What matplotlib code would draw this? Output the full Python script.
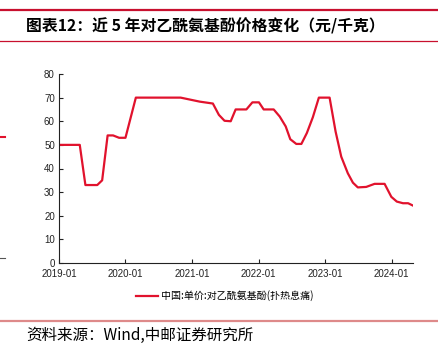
import matplotlib

matplotlib.use("Agg")
import matplotlib.pyplot as plt
import matplotlib.dates as mdates
import pandas as pd
from matplotlib.lines import Line2D

plt.rcParams["font.family"] = ["Liberation Sans", "Noto Sans CJK SC", "DejaVu Sans"]

TITLE = "图表12：近 5 年对乙酰氨基酚价格变化（元/千克）"
SOURCE = "资料来源：Wind,中邮证券研究所"
SERIES_NAME = "中国:单价:对乙酰氨基酚(扑热息痛)"

# price, yuan/kg
dates = [
    "2019-01-01", "2019-04-25", "2019-05-26", "2019-07-30", "2019-08-26",
    "2019-09-25", "2019-10-25", "2019-11-27", "2020-01-01", "2020-02-27",
    "2020-10-30", "2021-02-12", "2021-04-25", "2021-05-28", "2021-06-28",
    "2021-08-01", "2021-08-28", "2021-10-26", "2021-11-28", "2022-01-03",
    "2022-01-29", "2022-03-25", "2022-04-27", "2022-05-30", "2022-06-24",
    "2022-07-27", "2022-08-24", "2022-09-23", "2022-10-26", "2022-11-28",
    "2023-01-26", "2023-02-28", "2023-03-31", "2023-05-06", "2023-06-03",
    "2023-06-30", "2023-08-15", "2023-09-30", "2023-11-24", "2023-12-31",
    "2024-01-30", "2024-03-04", "2024-04-01", "2024-04-28",
]
prices = [
    50, 50, 33, 33, 35,
    54, 54, 53, 53, 70,
    70, 68.3, 67.5, 62.7, 60.2,
    60, 65, 65, 68, 68,
    65, 65, 62, 57.8, 52.4,
    50.4, 50.4, 55, 61.7, 70,
    70, 55.6, 45, 38, 34,
    32, 32.2, 33.5, 33.5, 28,
    26, 25.3, 25.3, 24.3,
]
yticks = [0, 10, 20, 30, 40, 50, 60, 70, 80]
xtick_years = [2019, 2020, 2021, 2022, 2023, 2024]

RED = "#E1122D"
CJK = ["Noto Sans CJK SC", "DejaVu Sans"]
W, H = 438, 346

fig = plt.figure(figsize=(W / 100, H / 100), dpi=100)

# header rules and title
fig.add_artist(Line2D([0, 1], [1 - 9.5 / H] * 2, color="#C8102E", lw=1.6))
fig.add_artist(Line2D([0, 1], [1 - 41 / H] * 2, color="#C8102E", lw=0.9))
fig.text(26 / W, 1 - 26 / H, TITLE, fontsize=11.4, fontweight="bold",
         family=CJK, va="center", ha="left")

# bits of the neighbouring chart at the left edge
fig.add_artist(Line2D([0, 5 / W], [1 - 137 / H] * 2, color=RED, lw=1.5))
fig.add_artist(Line2D([0, 5 / W], [1 - 258 / H] * 2, color="#555555", lw=0.8))

ax = fig.add_axes([59 / W, 1 - 263 / H, (413 - 59) / W, (263 - 74) / H])
x = pd.to_datetime(dates)
line, = ax.plot(x, prices, color=RED, lw=1.6, solid_joinstyle="round")

ax.set_ylim(0, 80)
ax.set_yticks(yticks)
ax.set_xlim(pd.Timestamp("2019-01-01"), pd.Timestamp("2024-04-28"))
ax.set_xticks([pd.Timestamp(f"{y}-01-01") for y in xtick_years])
ax.xaxis.set_major_formatter(mdates.DateFormatter("%Y-%m"))

for side in ("top", "right"):
    ax.spines[side].set_visible(False)
for side in ("left", "bottom"):
    ax.spines[side].set_linewidth(0.8)
    ax.spines[side].set_color("#222222")
ax.tick_params(axis="both", direction="in", length=3, width=0.8,
               labelsize=7, colors="#222222", pad=3)
ax.tick_params(axis="x", pad=4.5)

fig.legend([line], [SERIES_NAME], loc="center", bbox_to_anchor=(225 / W, 1 - 296 / H),
           frameon=False, handlelength=2.2, handletextpad=0.3,
           prop={"family": CJK, "size": 7.2})

# footer
fig.add_artist(Line2D([0, 1], [1 - 321 / H] * 2, color="#DE8A8A", lw=1.6))
fig.text(26 / W, 1 - 335 / H, SOURCE, fontsize=11.2,
         family=CJK, va="center", ha="left")

fig.savefig("out.png", dpi=100)
